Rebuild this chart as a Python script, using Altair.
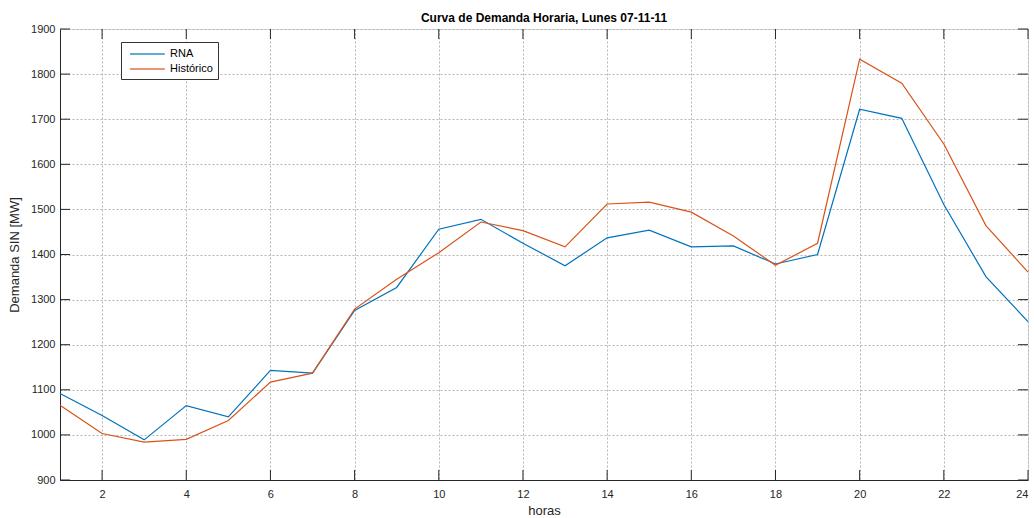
import altair as alt
import pandas as pd

# Hourly demand of the SIN, Monday 07-11-11
horas = list(range(1, 25))
rna = [1092, 1043, 989, 1065, 1040, 1143, 1137, 1276, 1327, 1456, 1478, 1425,
       1375, 1437, 1454, 1417, 1419, 1379, 1400, 1722, 1702, 1511, 1351, 1251]
historico = [1066, 1003, 984, 990, 1032, 1117, 1137, 1279, 1345, 1404, 1472, 1453,
             1417, 1512, 1516, 1494, 1441, 1376, 1425, 1833, 1780, 1645, 1464, 1361]
series = ["RNA", "Histórico"]
colors = ["#0072BD", "#D95319"]

x_ticks = list(range(2, 25, 2))
y_ticks = list(range(900, 1901, 100))

W, H = 968, 451
TICK = 10
AXIS_COLOR = "#262626"
FONT = "Liberation Sans"

df = pd.DataFrame({
    "horas": horas * 2,
    "valor": rna + historico,
    "serie": [series[0]] * len(horas) + [series[1]] * len(horas),
})

x_scale = alt.Scale(domain=[1, 24], nice=False, zero=False)
y_scale = alt.Scale(domain=[900, 1900], nice=False, zero=False)

axis_style = dict(
    tickSize=0, grid=True, gridDash=[2, 2], gridColor="#b4b4b4",
    domainColor=AXIS_COLOR,
    labelFont=FONT, labelFontSize=11, labelColor=AXIS_COLOR,
    titleFont=FONT, titleFontSize=13, titleFontWeight="normal", titleColor=AXIS_COLOR,
)
x_axis = alt.Axis(values=x_ticks, title="horas", format="d", labelPadding=8,
                  titlePadding=5, **axis_style)
y_axis = alt.Axis(values=y_ticks, title="Demanda SIN [MW]", format="d", labelPadding=5,
                  titlePadding=9, **axis_style)

lines = alt.Chart(df).mark_line(strokeWidth=1.2).encode(
    x=alt.X("horas:Q", scale=x_scale, axis=x_axis),
    y=alt.Y("valor:Q", scale=y_scale, axis=y_axis),
    color=alt.Color(
        "serie:N",
        scale=alt.Scale(domain=series, range=colors),
        sort=series,
        legend=alt.Legend(
            title=None, orient="none", legendX=61, legendY=13,
            # wide line sample: a path stretched to the right of the symbol cell
            symbolType="M-0.5,0H5.3", symbolSize=144, symbolStrokeWidth=2,
            symbolOpacity=0.6,
            strokeColor="#333333", fillColor="white", padding=5,
            labelFont=FONT, labelFontSize=11, labelColor="#000000",
            rowPadding=3, labelOffset=30,
        ),
    ),
)

# Inward tick marks on all four sides
xt = pd.DataFrame({"t": x_ticks})
yt = pd.DataFrame({"t": y_ticks})
tick_style = dict(color=AXIS_COLOR, strokeWidth=1)

bottom_ticks = alt.Chart(xt).mark_rule(**tick_style).encode(
    x=alt.X("t:Q", scale=x_scale), y=alt.value(H), y2=alt.value(H - TICK))
top_ticks = alt.Chart(xt).mark_rule(**tick_style).encode(
    x=alt.X("t:Q", scale=x_scale), y=alt.value(0), y2=alt.value(TICK))
left_ticks = alt.Chart(yt).mark_rule(**tick_style).encode(
    y=alt.Y("t:Q", scale=y_scale), x=alt.value(0), x2=alt.value(TICK))
right_ticks = alt.Chart(yt).mark_rule(**tick_style).encode(
    y=alt.Y("t:Q", scale=y_scale), x=alt.value(W), x2=alt.value(W - TICK))

chart = alt.layer(lines, bottom_ticks, top_ticks, left_ticks, right_ticks).properties(
    width=W, height=H,
    title=alt.TitleParams("Curva de Demanda Horaria, Lunes 07-11-11", font=FONT,
                          fontSize=12, fontWeight="bold", color="#000000", offset=-2),
    autosize=alt.AutoSizeParams(type="none"),
    padding={"left": 60, "top": 29, "right": 6, "bottom": 38},
).configure_view(
    stroke=AXIS_COLOR, strokeWidth=1,
).configure(background="white")

chart.save("out.html", embed_options={"renderer": "svg", "actions": False})
